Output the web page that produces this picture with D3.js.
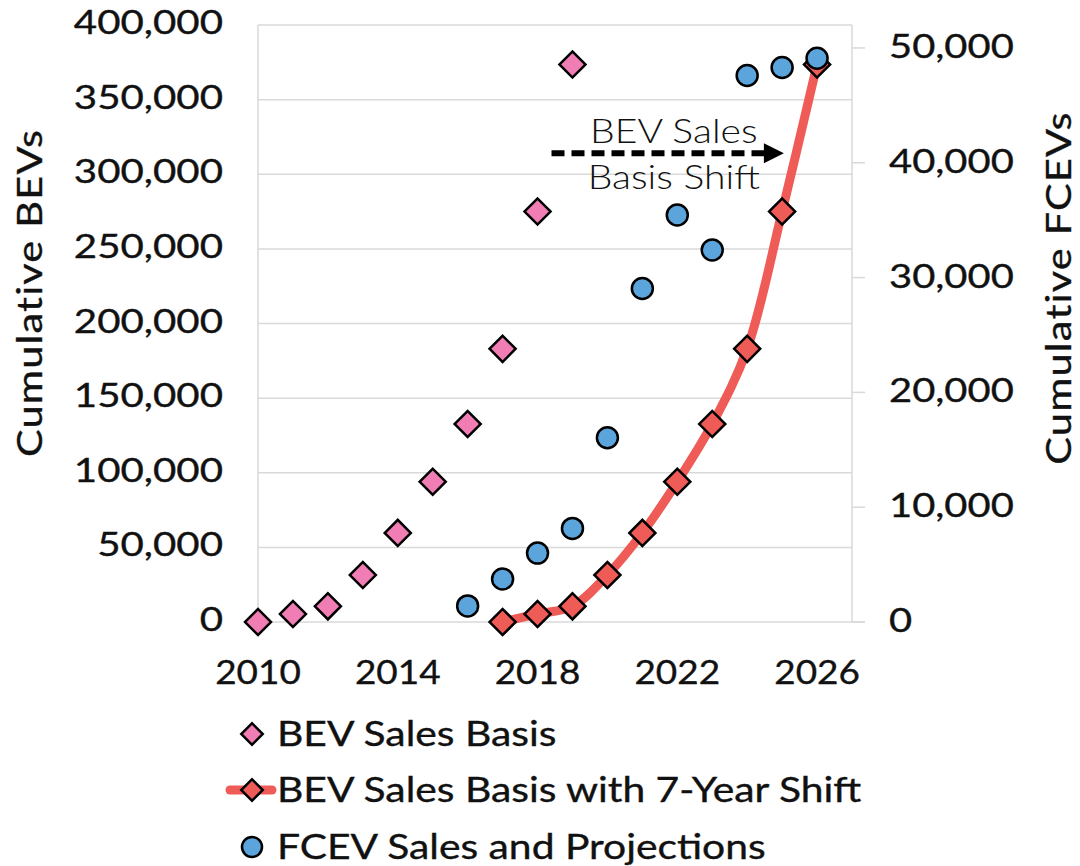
<!DOCTYPE html>
<html>
<head>
<meta charset="utf-8">
<script src="https://cdn.jsdelivr.net/npm/d3@7"></script>
<style>
  html, body { margin: 0; padding: 0; background: #fff; }
  svg { display: block; font-family: Lato, "Open Sans", sans-serif; }
</style>
</head>
<body>
<svg id="chart" width="1080" height="866"></svg>
<script>
// years and values
const bevYears = [2010, 2011, 2012, 2013, 2014, 2015, 2016, 2017, 2018, 2019];
const bevValues = [0, 5400, 10500, 31500, 59700, 94000, 132700, 183000, 275000, 373500];
const shiftYears = [2017, 2018, 2019, 2020, 2021, 2022, 2023, 2024, 2025, 2026];
const fcevYears = [2016, 2017, 2018, 2019, 2020, 2021, 2022, 2023, 2024, 2025, 2026];
const fcevValues = [1400, 3750, 6000, 8150, 16050, 29050, 35450, 32400, 47600, 48300, 49100];
const bevTicks = [0, 50000, 100000, 150000, 200000, 250000, 300000, 350000, 400000];
const fcevTicks = [0, 10000, 20000, 30000, 40000, 50000];
const yearTicks = [2010, 2014, 2018, 2022, 2026];
const legendLabels = ["BEV Sales Basis", "BEV Sales Basis with 7-Year Shift", "FCEV Sales and Projections"];

const pink = "#f07db4", red = "#ef5b57", blue = "#5ba4dc", grid = "#d9d9d9";

const svg = d3.select("#chart");
const x = d3.scaleLinear().domain([2010, 2027]).range([258, 852]);
const y = d3.scaleLinear().domain([0, 400000]).range([622, 25]);
const y2 = d3.scaleLinear().domain([0, 52000]).range([622, 25]);
const fmt = d3.format(",");

// the reference font is wider than Lato, so labels get stretched sideways
function label(parent, px, py, str, opts) {
    const o = Object.assign({ size: 33, sx: 1.22, anchor: "start", weight: 400, rotate: 0, ls: 0, sw: 0.35 }, opts);
    const g = parent.append("g")
        .attr("transform", `translate(${px},${py}) rotate(${o.rotate}) scale(${o.sx},1)`);
    g.append("text").attr("text-anchor", o.anchor).attr("font-size", o.size)
        .attr("font-weight", o.weight).attr("letter-spacing", o.ls)
        .attr("fill", "#111").attr("stroke", "#111").attr("stroke-width", o.sw).text(str);
    return g;
}

// gridlines
svg.append("g").selectAll("line").data(bevTicks.slice(1)).join("line")
    .attr("x1", x(2010)).attr("x2", x(2027))
    .attr("y1", d => y(d)).attr("y2", d => y(d))
    .attr("stroke", grid).attr("stroke-width", 1.5);
svg.append("line").attr("x1", x(2010)).attr("x2", x(2027) + 13)
    .attr("y1", y(0)).attr("y2", y(0)).attr("stroke", grid).attr("stroke-width", 1.5);
svg.append("line").attr("x1", x(2010)).attr("x2", x(2010))
    .attr("y1", y(400000)).attr("y2", y(0)).attr("stroke", grid).attr("stroke-width", 1.5);
svg.append("line").attr("x1", x(2027)).attr("x2", x(2027))
    .attr("y1", y(400000)).attr("y2", y(0)).attr("stroke", grid).attr("stroke-width", 1.5);
svg.append("g").selectAll("line").data(fcevTicks).join("line")
    .attr("x1", x(2027)).attr("x2", x(2027) + 13)
    .attr("y1", d => y2(d)).attr("y2", d => y2(d))
    .attr("stroke", grid).attr("stroke-width", 1.5);

// tick labels
const ticks = svg.append("g");
bevTicks.forEach(v => label(ticks, 223, y(v) + 9, fmt(v), { anchor: "end" }));
fcevTicks.forEach(v => label(ticks, 889, y2(v) + 10, fmt(v), { sx: 1.21 }));
yearTicks.forEach(v => label(ticks, x(v), 684, String(v), { anchor: "middle", sx: 1.12 }));

// axis titles
label(svg, 42, 293, "Cumulative BEVs", { anchor: "middle", rotate: -90, sx: 1.22, size: 34, ls: 1 });
label(svg, 1071, 288, "Cumulative FCEVs", { anchor: "middle", rotate: -90, sx: 1.22, size: 34, ls: 1 });

// annotation
const arrowY = 314000;
svg.append("line")
    .attr("x1", x(2018.4)).attr("x2", x(2024.5))
    .attr("y1", y(arrowY)).attr("y2", y(arrowY))
    .attr("stroke", "#000").attr("stroke-width", 6).attr("stroke-dasharray", "13 7");
svg.append("path")
    .attr("d", `M${x(2025.05)},${y(arrowY)} L${x(2025.05) - 20},${y(arrowY) - 10} L${x(2025.05) - 20},${y(arrowY) + 10} Z`)
    .attr("fill", "#000");
label(svg, x(2021.9), y(arrowY) - 10, "BEV Sales", { anchor: "middle", size: 34, weight: 300, sx: 1.15, sw: 0 });
label(svg, x(2021.9), y(arrowY) + 36, "Basis Shift", { anchor: "middle", size: 34, weight: 300, sx: 1.15, sw: 0 });

const diamond = d3.symbol().type(d3.symbolSquare).size(340);

// shifted line
const shiftData = shiftYears.map((yr, i) => ({ year: yr, value: bevValues[i] }));
svg.append("path").datum(shiftData)
    .attr("d", d3.line().x(d => x(d.year)).y(d => y(d.value)).curve(d3.curveCatmullRom.alpha(0.5)))
    .attr("fill", "none").attr("stroke", red).attr("stroke-width", 9).attr("stroke-linecap", "round");

// BEV markers
svg.append("g").selectAll("path").data(bevYears).join("path")
    .attr("transform", (d, i) => `translate(${x(d)},${y(bevValues[i])}) rotate(45)`)
    .attr("d", diamond).attr("fill", pink).attr("stroke", "#000").attr("stroke-width", 2.5);
svg.append("g").selectAll("path").data(shiftData).join("path")
    .attr("transform", d => `translate(${x(d.year)},${y(d.value)}) rotate(45)`)
    .attr("d", diamond).attr("fill", red).attr("stroke", "#000").attr("stroke-width", 2.5);

// FCEV markers
svg.append("g").selectAll("circle").data(fcevYears).join("circle")
    .attr("cx", d => x(d)).attr("cy", (d, i) => y2(fcevValues[i])).attr("r", 10.5)
    .attr("fill", blue).attr("stroke", "#000").attr("stroke-width", 2.5);

// legend
const leg = svg.append("g").attr("transform", "translate(252,0)");
const rowY = [734, 790, 847];
leg.append("line").attr("x1", -22).attr("x2", 20).attr("y1", rowY[1]).attr("y2", rowY[1])
    .attr("stroke", red).attr("stroke-width", 9).attr("stroke-linecap", "round");
leg.append("path").attr("transform", `translate(0,${rowY[0]}) rotate(45)`)
    .attr("d", d3.symbol().type(d3.symbolSquare).size(230)).attr("fill", pink).attr("stroke", "#000").attr("stroke-width", 2.5);
leg.append("path").attr("transform", `translate(0,${rowY[1]}) rotate(45)`)
    .attr("d", d3.symbol().type(d3.symbolSquare).size(230)).attr("fill", red).attr("stroke", "#000").attr("stroke-width", 2.5);
leg.append("circle").attr("cx", 0).attr("cy", rowY[2]).attr("r", 10)
    .attr("fill", blue).attr("stroke", "#000").attr("stroke-width", 2.5);
legendLabels.forEach((t, i) => label(leg, 25, rowY[i] + 12, t, { size: 34, sx: 1.2 }));
</script>
</body>
</html>
